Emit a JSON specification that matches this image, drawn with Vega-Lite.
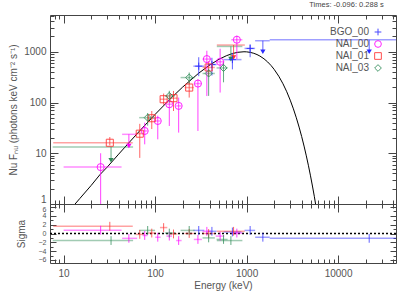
{
  "$schema": "https://vega.github.io/schema/vega-lite/v6.json",
  "padding": {"left": 8, "top": 1, "right": 5, "bottom": 2},
  "background": "white",
  "title": {"text": "Times: -0.096: 0.288 s", "anchor": "end", "fontSize": 7.5, "font": "Liberation Sans", "fontWeight": "normal", "color": "#444", "offset": 2.5, "dx": -13},
  "datasets": {
    "pts": [
      {"d":"BGO_00","e":300,"elo":262,"ehi":345,"f":520,"flo":330,"fhi":780,"ul":0,"s":0.7,"slo":-0.3,"shi":1.7},
      {"d":"BGO_00","e":418,"elo":375,"ehi":470,"f":560,"flo":340,"fhi":760,"ul":0,"s":0.5,"slo":-0.5,"shi":1.5},
      {"d":"BGO_00","e":700,"elo":560,"ehi":880,"f":700,"flo":450,"fhi":950,"ul":0,"s":0.35,"slo":-0.65,"shi":1.35},
      {"d":"BGO_00","e":1094,"elo":950,"ehi":1240,"f":1163,"flo":780,"fhi":1400,"ul":0,"s":0.7,"slo":-0.3,"shi":1.7},
      {"d":"BGO_00","e":1507,"elo":1240,"ehi":1790,"f":1649,"flo":1000,"fhi":1649,"ul":1,"s":-0.85,"slo":-1.85,"shi":0.15},
      {"d":"BGO_00","e":21900,"elo":1790,"ehi":43000,"f":1726,"flo":1000,"fhi":1726,"ul":1,"s":-1.1,"slo":-2.1,"shi":-0.1},
      {"d":"NAI_00","e":25.4,"elo":10,"ehi":43,"f":5.33,"flo":0.3,"fhi":10,"ul":0,"s":0.75,"slo":-0.25,"shi":1.75},
      {"d":"NAI_00","e":51.7,"elo":43.6,"ehi":63.7,"f":23.6,"flo":13.9,"fhi":23.6,"ul":1,"s":-1.1,"slo":-2.1,"shi":-0.1},
      {"d":"NAI_00","e":77,"elo":73,"ehi":83,"f":27.5,"flo":15,"fhi":40,"ul":0,"s":-0.45,"slo":-1.45,"shi":0.55},
      {"d":"NAI_00","e":107,"elo":100,"ehi":115,"f":43.3,"flo":18.8,"fhi":55,"ul":0,"s":-0.85,"slo":-1.85,"shi":0.15},
      {"d":"NAI_00","e":143,"elo":133,"ehi":153,"f":92.5,"flo":34.5,"fhi":116,"ul":0,"s":-0.6,"slo":-1.6,"shi":0.4},
      {"d":"NAI_00","e":181,"elo":170,"ehi":195,"f":85.7,"flo":25.5,"fhi":125,"ul":0,"s":-1.6,"slo":-2.6,"shi":-0.6},
      {"d":"NAI_00","e":294,"elo":265,"ehi":325,"f":236,"flo":27.5,"fhi":289,"ul":0,"s":-1.35,"slo":-2.35,"shi":-0.35},
      {"d":"NAI_00","e":368,"elo":330,"ehi":410,"f":717,"flo":134,"fhi":1047,"ul":0,"s":0.5,"slo":-0.5,"shi":1.5},
      {"d":"NAI_00","e":514,"elo":460,"ehi":570,"f":634,"flo":157,"fhi":1146,"ul":0,"s":-0.6,"slo":-1.6,"shi":0.4},
      {"d":"NAI_00","e":783,"elo":680,"ehi":900,"f":1726,"flo":717,"fhi":2075,"ul":0,"s":0.1,"slo":-0.9,"shi":1.1},
      {"d":"NAI_01","e":32,"elo":7.7,"ehi":57,"f":16.1,"flo":14.3,"fhi":20.9,"ul":0,"s":1.65,"slo":0.65,"shi":2.65},
      {"d":"NAI_01","e":68,"elo":61.5,"ehi":75,"f":24.3,"flo":8.1,"fhi":38,"ul":0,"s":-0.2,"slo":-1.2,"shi":0.8},
      {"d":"NAI_01","e":92,"elo":84,"ehi":101,"f":49,"flo":30,"fhi":68,"ul":0,"s":0.1,"slo":-0.9,"shi":1.1},
      {"d":"NAI_01","e":124,"elo":113,"ehi":136,"f":116,"flo":90,"fhi":150,"ul":0,"s":1.35,"slo":0.35,"shi":2.35},
      {"d":"NAI_01","e":159,"elo":145,"ehi":175,"f":121.6,"flo":68,"fhi":169,"ul":0,"s":-0.1,"slo":-1.1,"shi":0.9},
      {"d":"NAI_01","e":236,"elo":210,"ehi":265,"f":197,"flo":125,"fhi":268,"ul":0,"s":0,"slo":-1,"shi":1},
      {"d":"NAI_01","e":385,"elo":330,"ehi":450,"f":490,"flo":330,"fhi":650,"ul":0,"s":0,"slo":-1,"shi":1},
      {"d":"NAI_01","e":721,"elo":473,"ehi":957,"f":1356,"flo":771,"fhi":1356,"ul":1,"s":0.5,"slo":-0.5,"shi":1.5},
      {"d":"NAI_03","e":33,"elo":7.6,"ehi":57.5,"f":13.3,"flo":7.3,"fhi":13.3,"ul":1,"s":-1.6,"slo":-2.6,"shi":-0.6},
      {"d":"NAI_03","e":83,"elo":67,"ehi":100,"f":50.3,"flo":35,"fhi":62,"ul":0,"s":0.7,"slo":-0.3,"shi":1.7},
      {"d":"NAI_03","e":143,"elo":128,"ehi":165,"f":135,"flo":100,"fhi":170,"ul":0,"s":0.1,"slo":-0.9,"shi":1.1},
      {"d":"NAI_03","e":236,"elo":190,"ehi":270,"f":310,"flo":230,"fhi":390,"ul":0,"s":0.7,"slo":-0.3,"shi":1.7},
      {"d":"NAI_03","e":385,"elo":330,"ehi":450,"f":373,"flo":135,"fhi":462,"ul":0,"s":-1.0,"slo":-2.0,"shi":0},
      {"d":"NAI_03","e":560,"elo":470,"ehi":620,"f":480,"flo":250,"fhi":620,"ul":0,"s":-1.35,"slo":-2.35,"shi":-0.35},
      {"d":"NAI_03","e":674,"elo":473,"ehi":900,"f":1273,"flo":717,"fhi":1273,"ul":1,"s":-1.6,"slo":-2.6,"shi":-0.6}
    ],
    "model": [
      {"e":12,"f":0.80},{"e":13,"f":0.947},{"e":15,"f":1.276},{"e":20,"f":2.319},{"e":25,"f":3.80},{"e":30,"f":5.346},{"e":40,"f":9.60},{"e":50,"f":15.05},{"e":70,"f":29.32},{"e":100,"f":58.24},{"e":150,"f":122.7},{"e":200,"f":201.3},{"e":300,"f":378.7},{"e":400,"f":555.5},{"e":500,"f":710.3},{"e":600,"f":833.4},{"e":700,"f":921.5},{"e":800,"f":975.2},{"e":937,"f":1000},{"e":1000,"f":995.4},{"e":1100,"f":971.6},{"e":1200,"f":932.0},{"e":1300,"f":880.8},{"e":1400,"f":822.0},{"e":1550,"f":726.7},{"e":1700,"f":629.7},{"e":1850,"f":536.9},{"e":2000,"f":451.1},{"e":2250,"f":329.2},{"e":2500,"f":234.0},{"e":2750,"f":162.8},{"e":3000,"f":111.3},{"e":3250,"f":75.0},{"e":3500,"f":49.9},{"e":3750,"f":32.8},{"e":4000,"f":21.4},{"e":4250,"f":13.84},{"e":4500,"f":8.88},{"e":4750,"f":5.66},{"e":5000,"f":3.59},{"e":5250,"f":2.26},{"e":5500,"f":1.42},{"e":6000,"f":0.552}
    ]
  },
  "spacing": 0,
  "bounds": "flush",
  "vconcat": [
    {
      "width": 346,
      "height": 189,
      "layer": [
        {
          "data": {"name": "model"},
          "mark": {"type": "line", "color": "black", "strokeWidth": 1, "clip": true},
          "encoding": {
            "x": {"field": "e", "type": "quantitative", "scale": {"type": "log", "domain": [7.1, 43000], "nice": false},
              "axis": {"orient": "bottom", "values": [8,9,10,20,30,40,50,60,70,80,90,100,200,300,400,500,600,700,800,900,1000,2000,3000,4000,5000,6000,7000,8000,9000,10000,20000,30000,40000], "labels": false, "title": null,
                "tickSize": {"condition": {"test": "indexof([10,100,1000,10000], datum.value) >= 0", "value": -8}, "value": -4}}},
            "y": {"field": "f", "type": "quantitative", "scale": {"type": "log", "domain": [1, 5300], "nice": false},
              "axis": {"orient": "left", "values": [1,2,3,4,5,6,7,8,9,10,20,30,40,50,60,70,80,90,100,200,300,400,500,600,700,800,900,1000,2000,3000,4000,5000], "format": "d",
                "labelExpr": "indexof([1,10,100,1000], datum.value) >= 0 ? datum.label : ''",
                "labelBaseline": {"condition": {"test": "datum.value == 1", "value": "bottom"}, "value": "middle"},
                "tickSize": {"condition": {"test": "indexof([1,10,100,1000], datum.value) >= 0", "value": -8}, "value": -4},
                "labelPadding": 12, "title": "Nu Fₙᵤ (photons keV cm⁻² s⁻¹)", "titlePadding": 5}}
          }
        },
        {
          "data": {"name": "pts"},
          "mark": {"type": "rule", "strokeWidth": 1.5, "opacity": 0.45, "clip": true},
          "encoding": {
            "x": {"field": "elo", "type": "quantitative", "scale": {"type": "log", "domain": [7.1, 43000], "nice": false},
              "axis": {"orient": "top", "values": [8,9,10,20,30,40,50,60,70,80,90,100,200,300,400,500,600,700,800,900,1000,2000,3000,4000,5000,6000,7000,8000,9000,10000,20000,30000,40000], "labels": false, "title": null,
                "tickSize": {"condition": {"test": "indexof([10,100,1000,10000], datum.value) >= 0", "value": -8}, "value": -4}}},
            "x2": {"field": "ehi"},
            "y": {"field": "f", "type": "quantitative", "scale": {"type": "log", "domain": [1, 5300], "nice": false},
              "axis": {"orient": "right", "values": [1,2,3,4,5,6,7,8,9,10,20,30,40,50,60,70,80,90,100,200,300,400,500,600,700,800,900,1000,2000,3000,4000,5000], "labels": false, "title": null,
                "tickSize": {"condition": {"test": "indexof([1,10,100,1000], datum.value) >= 0", "value": -8}, "value": -4}}},
            "stroke": {"field": "d", "type": "nominal", "scale": {"domain": ["NAI_03","NAI_01","NAI_00","BGO_00"], "range": ["#2e8b57","#ff3030","#ff00ff","#2b2bff"]}, "legend": null}
          }
        },
        {
          "data": {"name": "pts"},
          "mark": {"type": "rule", "strokeWidth": 1, "opacity": 0.75, "clip": true},
          "encoding": {
            "x": {"field": "e", "type": "quantitative", "axis": null},
            "y": {"field": "flo", "type": "quantitative", "axis": null},
            "y2": {"field": "fhi"},
            "stroke": {"field": "d", "type": "nominal", "legend": null}
          }
        },
        {
          "data": {"name": "pts"},
          "transform": [{"filter": "datum.ul == 1"}],
          "mark": {"type": "point", "shape": "triangle-down", "filled": true, "size": 28, "opacity": 1, "strokeWidth": 0},
          "encoding": {
            "x": {"field": "e", "type": "quantitative", "axis": null},
            "y": {"field": "flo", "type": "quantitative", "axis": null},
            "fill": {"field": "d", "type": "nominal", "scale": {"domain": ["NAI_01","NAI_03","BGO_00","NAI_00"], "range": ["#ff3030","#2e8b57","#2b2bff","#ff00ff"]}, "legend": null}
          }
        },
        {
          "data": {"name": "pts"},
          "transform": [{"filter": "datum.ul == 0"}],
          "mark": {"type": "point", "filled": false, "size": 50, "strokeWidth": 1, "opacity": 0.85},
          "encoding": {
            "x": {"field": "e", "type": "quantitative", "axis": null},
            "y": {"field": "f", "type": "quantitative", "axis": null},
            "color": {"field": "d", "type": "nominal", "scale": {"domain": ["BGO_00","NAI_00","NAI_01","NAI_03"], "range": ["#2b2bff","#ff00ff","#ff3030","#2e8b57"]},
              "legend": {"orient": "top-right", "offset": 12, "direction": "vertical", "title": null, "labelAlign": "right", "labelOffset": -14, "symbolSize": 45, "symbolStrokeWidth": 1, "rowPadding": 0, "labelFontSize": 10}},
            "shape": {"field": "d", "type": "nominal", "scale": {"domain": ["BGO_00","NAI_00","NAI_01","NAI_03"], "range": ["M-1,0L1,0M0,-1L0,1","circle","square","diamond"]},
              "legend": {"orient": "top-right", "offset": 12, "direction": "vertical", "title": null, "labelAlign": "right", "labelOffset": -14, "symbolSize": 45, "symbolStrokeWidth": 1, "rowPadding": 0, "labelFontSize": 10}}
          }
        }
      ],
      "resolve": {"axis": {"x": "independent", "y": "independent"}}
    },
    {
      "width": 346,
      "height": 59,
      "layer": [
        {
          "data": {"values": [{}]},
          "mark": {"type": "rule", "color": "black", "strokeDash": [2, 2], "strokeWidth": 1.3},
          "encoding": {"y": {"datum": 0, "type": "quantitative", "scale": {"domain": [-6.7, 6.7], "nice": false, "zero": false}, "axis": null}}
        },
        {
          "data": {"name": "pts"},
          "mark": {"type": "rule", "strokeWidth": 1.5, "opacity": 0.45, "clip": true},
          "encoding": {
            "x": {"field": "elo", "type": "quantitative", "scale": {"type": "log", "domain": [7.1, 43000], "nice": false},
              "axis": {"orient": "bottom", "values": [8,9,10,20,30,40,50,60,70,80,90,100,200,300,400,500,600,700,800,900,1000,2000,3000,4000,5000,6000,7000,8000,9000,10000,20000,30000,40000], "format": "d",
                "labelExpr": "indexof([10,100,1000,10000], datum.value) >= 0 ? datum.label : ''",
                "labelFontSize": {"condition": {"test": "indexof([10,100,1000,10000], datum.value) >= 0", "value": 10}, "value": 0},
                "tickSize": {"condition": {"test": "indexof([10,100,1000,10000], datum.value) >= 0", "value": -8}, "value": -4},
                "labelPadding": 13, "title": "Energy (keV)", "titlePadding": 2}},
            "x2": {"field": "ehi"},
            "y": {"field": "s", "type": "quantitative", "scale": {"domain": [-6.7, 6.7], "nice": false, "zero": false},
              "axis": {"orient": "left", "values": [-6,-5,-4,-3,-2,-1,0,1,2,3,4,5,6], "format": "d",
                "labelExpr": "datum.value % 2 == 0 ? datum.label : ''",
                "labelBaseline": {"condition": {"test": "datum.value == 6", "value": "top"}, "value": "middle"},
                "labelOffset": {"condition": {"test": "datum.value == 6", "value": -2}, "value": 0},
                "tickSize": {"condition": {"test": "datum.value % 2 == 0", "value": -6}, "value": -3},
                "labelPadding": 10, "labelFontSize": 7, "title": "Sigma", "titlePadding": 12}},
            "color": {"field": "d", "type": "nominal", "scale": {"domain": ["BGO_00","NAI_00","NAI_01","NAI_03"], "range": ["#2b2bff","#ff00ff","#ff3030","#2e8b57"]}, "legend": null}
          }
        },
        {
          "data": {"name": "pts"},
          "mark": {"type": "rule", "strokeWidth": 1, "opacity": 0.75, "clip": true},
          "encoding": {
            "x": {"field": "e", "type": "quantitative", "scale": {"type": "log", "domain": [7.1, 43000], "nice": false},
              "axis": {"orient": "top", "values": [8,9,10,20,30,40,50,60,70,80,90,100,200,300,400,500,600,700,800,900,1000,2000,3000,4000,5000,6000,7000,8000,9000,10000,20000,30000,40000], "labels": false, "title": null,
                "tickSize": {"condition": {"test": "indexof([10,100,1000,10000], datum.value) >= 0", "value": -8}, "value": -4}}},
            "y": {"field": "slo", "type": "quantitative", "scale": {"domain": [-6.7, 6.7], "nice": false, "zero": false},
              "axis": {"orient": "right", "values": [-6,-5,-4,-3,-2,-1,0,1,2,3,4,5,6], "labels": false, "title": null,
                "tickSize": {"condition": {"test": "datum.value % 2 == 0", "value": -6}, "value": -3}}},
            "y2": {"field": "shi"},
            "color": {"field": "d", "type": "nominal", "legend": null}
          }
        }
      ],
      "resolve": {"axis": {"x": "independent", "y": "independent"}}
    }
  ],
  "resolve": {"scale": {"color": "independent", "shape": "independent", "stroke": "independent", "fill": "independent"}},
  "config": {
    "view": {"stroke": null},
    "axis": {"domainColor": "#444", "tickColor": "#444", "labelColor": "#555", "titleColor": "#555", "labelFont": "Liberation Sans", "titleFont": "Liberation Sans", "labelFontSize": 10, "titleFontSize": 10, "titleFontWeight": "normal", "grid": false, "labelOverlap": false, "labelFlush": false, "labelBound": false, "tickWidth": 1, "domainWidth": 1},
    "legend": {"labelFont": "Liberation Sans", "labelFontSize": 10, "labelColor": "#555"}
  }
}
